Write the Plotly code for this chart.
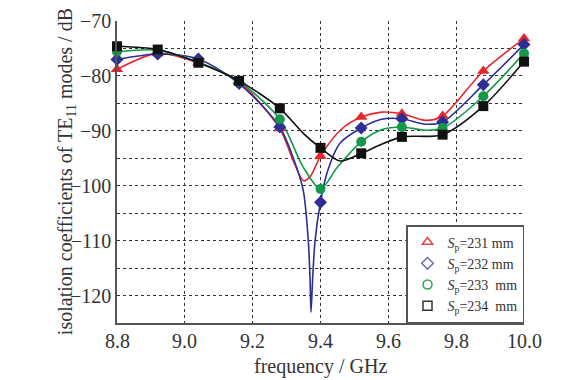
import plotly.graph_objects as go

# ---- data ----
freq = [8.8, 8.92, 9.04, 9.16, 9.28, 9.40, 9.52, 9.64, 9.76, 9.88, 10.0]

red_pts = [-78.8, -75.9, -77.6, -81.1, -89.6, -94.6, -87.5, -86.9, -87.3, -79.1, -73.2]
blue_pts = [-77.0, -76.0, -76.9, -81.4, -89.3, -103.0, -89.5, -87.8, -88.4, -81.6, -74.3]
green_pts = [-75.6, -75.3, -77.5, -81.0, -87.9, -100.6, -92.0, -89.3, -89.5, -83.7, -75.9]
black_pts = [-74.6, -75.2, -77.6, -80.9, -85.9, -93.1, -94.1, -91.1, -90.7, -85.5, -77.4]

# fitted curves
red_cf = [8.8, 8.92, 9.04, 9.16, 9.28, 9.32, 9.35, 9.37, 9.40, 9.46, 9.52, 9.58, 9.64, 9.71, 9.76, 9.88, 10.0]
red_cv = [-78.8, -75.9, -77.6, -81.1, -89.6, -95.5, -99.1, -98.3, -94.6, -89.8, -87.5, -86.6, -86.9, -88.1, -87.3, -79.1, -73.2]

blue_cf = [8.8, 8.92, 9.04, 9.16, 9.28, 9.32, 9.349, 9.364, 9.369, 9.372, 9.377, 9.384, 9.40, 9.42, 9.457, 9.52, 9.58, 9.64, 9.71, 9.76, 9.88, 10.0]
blue_cv = [-77.0, -76.0, -76.9, -81.4, -89.3, -95.0, -100.8, -110.0, -116.7, -123.0, -116.7, -110.0, -103.0, -97.5, -92.3, -89.5, -87.9, -87.8, -88.8, -88.4, -81.6, -74.3]

green_cf = [8.8, 8.92, 9.04, 9.16, 9.28, 9.349, 9.40, 9.45, 9.52, 9.58, 9.64, 9.71, 9.76, 9.88, 10.0]
green_cv = [-75.6, -75.3, -77.5, -81.0, -87.9, -96.6, -100.6, -96.6, -92.0, -89.8, -89.3, -89.9, -89.5, -83.7, -75.9]

black_cf = [8.8, 8.92, 9.04, 9.16, 9.28, 9.35, 9.40, 9.458, 9.52, 9.575, 9.64, 9.76, 9.88, 10.0]
black_cv = [-74.6, -75.2, -77.6, -80.9, -85.9, -90.5, -93.1, -95.5, -94.1, -92.6, -91.1, -90.7, -85.5, -77.4]

labels = ["<i>S</i><sub>p</sub>=231 mm", "<i>S</i><sub>p</sub>=232 mm",
          "<i>S</i><sub>p</sub>=233\u00a0 mm", "<i>S</i><sub>p</sub>=234\u00a0 mm"]

x_ticks = [8.8, 9.0, 9.2, 9.4, 9.6, 9.8, 10.0]
x_tick_text = ["8.8", "9.0", "9.2", "9.4", "9.6", "9.8", "10.0"]

series = [
    (red_cf, red_cv, red_pts, "#e8252b", "triangle-up", "#e8424a"),
    (blue_cf, blue_cv, blue_pts, "#2c2e96", "diamond", "#6e6ec0"),
    (green_cf, green_cv, green_pts, "#14984a", "circle", "#1faa48"),
    (black_cf, black_cv, black_pts, "#111111", "square", "#333333"),
]

FONT = "Liberation Serif, Times New Roman, serif"
TXT = "#333333"

fig = go.Figure()
for cf, cv, pts, col, sym, lcol in series:
    fig.add_trace(go.Scatter(x=cf, y=cv, mode="lines",
                             line=dict(color=col, width=1.6, shape="spline", smoothing=0.8),
                             showlegend=False, hoverinfo="skip", cliponaxis=False))
for cf, cv, pts, col, sym, lcol in series:
    fig.add_trace(go.Scatter(x=freq, y=pts, mode="markers",
                             marker=dict(symbol=sym, size=10 if sym != "triangle-up" else 11,
                                         color=col, line=dict(width=0)),
                             showlegend=False, cliponaxis=False))
for (cf, cv, pts, col, sym, lcol), lab in zip(series, labels):
    fig.add_trace(go.Scatter(x=[None], y=[None], mode="markers", name=lab,
                             marker=dict(symbol=sym + "-open", size=9, color=lcol,
                                         line=dict(width=1.5, color=lcol))))

annotations = [dict(text=t, x=v, xref="x", yref="paper", y=-0.0586,
                    xanchor="center", yanchor="middle", showarrow=False,
                    font=dict(family=FONT, size=20, color=TXT))
               for v, t in zip(x_ticks, x_tick_text)]
annotations.append(dict(text="frequency / GHz", xref="paper", yref="paper",
                        x=0.5, y=-0.100, xanchor="center", yanchor="top",
                        showarrow=False, font=dict(family=FONT, size=20, color=TXT)))
annotations.append(dict(text="isolation coefficients of TE<sub>11</sub> modes / dB",
                        xref="paper", yref="paper", x=-0.125, y=0.5, textangle=-90,
                        xanchor="center", yanchor="middle", showarrow=False,
                        font=dict(family=FONT, size=20, color=TXT)))

# page body adds an 8px margin, so the figure is 8px smaller and margins shifted
fig.update_layout(
    width=568, height=372,
    margin=dict(l=109, r=52, t=13, b=57, autoexpand=False),
    paper_bgcolor="white", plot_bgcolor="white",
    font=dict(family=FONT, size=20, color=TXT),
    showlegend=True,
    legend=dict(x=1, y=0, xanchor="right", yanchor="bottom",
                bgcolor="white", bordercolor="#555555", borderwidth=1.5,
                font=dict(family=FONT, size=14, color=TXT),
                tracegroupgap=0, itemwidth=30),
    annotations=annotations,
)
fig.update_xaxes(
    range=[8.8, 10.0], tickvals=x_ticks, showticklabels=False,
    showgrid=True, gridcolor="#333333", griddash="3px,3px", gridwidth=1,
    showline=True, linecolor="#555555", linewidth=1.5,
    ticks="", ticklen=0, zeroline=False, automargin=False,
)
fig.update_yaxes(
    range=[-125, -70], dtick=10, tick0=-70,
    showgrid=True, gridcolor="#333333", griddash="3px,3px", gridwidth=1,
    minor=dict(dtick=5, showgrid=True, gridcolor="#333333", griddash="3px,3px", gridwidth=1),
    showline=True, linecolor="#555555", linewidth=1.5,
    ticks="", ticklen=0, zeroline=False, tickfont=dict(size=20), automargin=False,
)

fig.write_html("out.html")
